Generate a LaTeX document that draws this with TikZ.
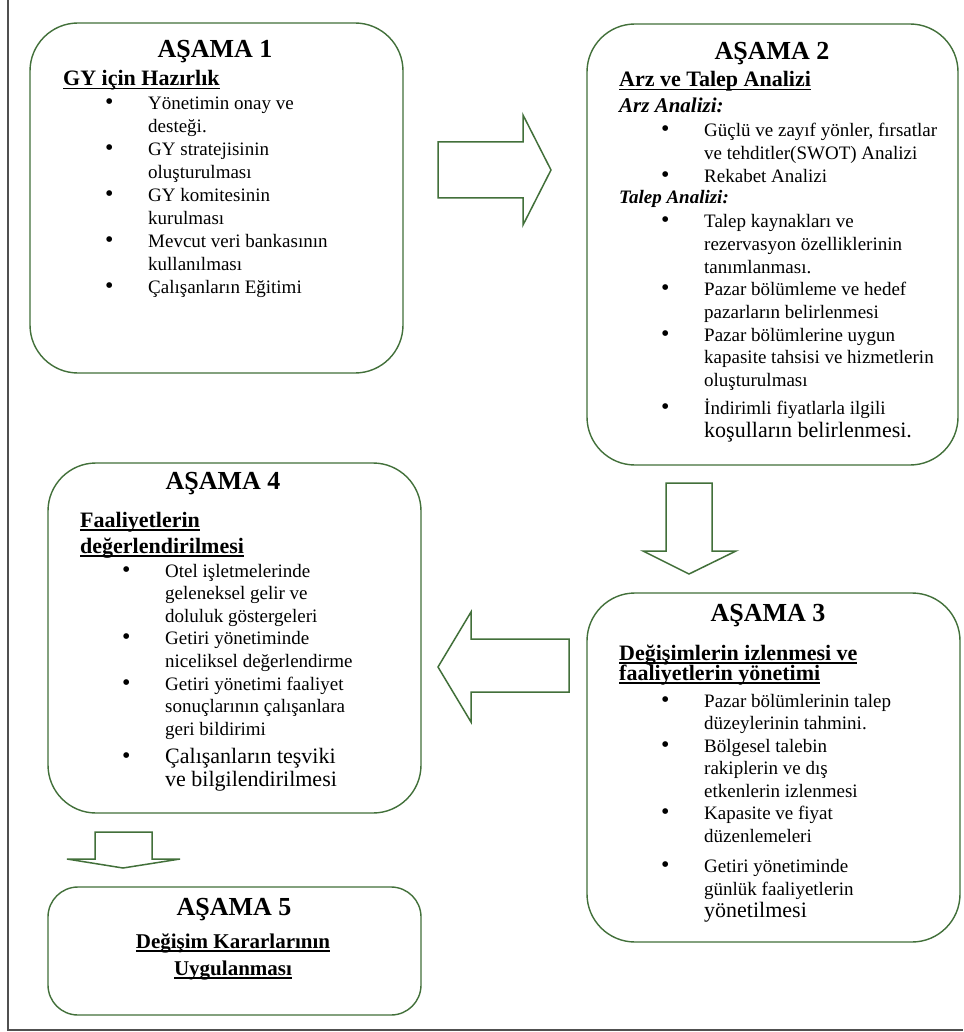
\documentclass[tikz,border=0pt]{standalone}
\usepackage{fontspec}
\setmainfont{Liberation Serif}
\definecolor{boxgreen}{RGB}{66,112,58}
\definecolor{framegray}{RGB}{80,80,80}
\newcommand\myul[1]{\setbox0\hbox{#1}\rlap{\rule[-3.5pt]{\wd0}{1.6pt}}\box0}
\newcommand\bitem[1]{\hspace*{42pt}\makebox[43pt][l]{{\fontsize{24}{20}\selectfont\textbullet}}#1}
\newcommand\bcont[1]{\hspace*{85pt}#1}
\begin{document}
\begin{tikzpicture}[x=1pt,y=-1pt,
  stage/.style={draw=boxgreen, line width=1.4pt, rounded corners=48pt, inner sep=0pt},
  stagetitle/.style={font=\fontsize{26}{30}\selectfont\bfseries, anchor=base, inner sep=0pt},
  subt/.style={font=\fontsize{22}{26}\selectfont\bfseries, anchor=base west, inner sep=0pt},
  subi/.style={font=\fontsize{21}{24}\selectfont\bfseries\itshape, anchor=base west, inner sep=0pt},
  txt/.style={anchor=base west, inner sep=0pt},
  blockarrow/.style={draw=boxgreen, line width=1.5pt, line join=miter, fill=white}]
\useasboundingbox (0,0) rectangle (963,1032);
\fill[white] (0,0) rectangle (963,1032);
\draw[framegray, line width=2.5pt] (8,0) -- (8,1030) -- (963,1030);

% boxes
\node[stage, minimum width=373pt, minimum height=350pt] (b1) at (216.5,198) {};
\node[stage, minimum width=371pt, minimum height=441pt] (b2) at (772.5,244.5) {};
\node[stage, minimum width=373pt, minimum height=349pt] (b3) at (773.5,767.5) {};
\node[stage, minimum width=373pt, minimum height=350pt] (b4) at (234.5,638) {};
\node[stage, rounded corners=30pt, minimum width=373pt, minimum height=128pt] (b5) at (234.5,951) {};

% block arrows
\draw[blockarrow] (438,142) -- (523,142) -- (523,115) -- (551,170) -- (523,225) -- (523,198) -- (438,198) -- cycle;
\draw[blockarrow] (666,483) -- (712,483) -- (712,551) -- (736,551) -- (689,574) -- (643,551) -- (666,551) -- cycle;
\draw[blockarrow] (438,667) -- (471,612) -- (471,639) -- (569,639) -- (569,692) -- (471,692) -- (471,722) -- cycle;
\draw[blockarrow] (95,832) -- (152,832) -- (152,859) -- (180,859) -- (123,868) -- (67,859) -- (95,859) -- cycle;

% titles
\node[stagetitle] (t1) at (215,58) {AŞAMA 1};
\node[stagetitle] (t2) at (772,60) {AŞAMA 2};
\node[stagetitle] (t3) at (768,621) {AŞAMA 3};
\node[stagetitle] (t4) at (223,489) {AŞAMA 4};
\node[stagetitle] (t5) at (234,915) {AŞAMA 5};

% box 1
\node[subt] (s1) at (63,86) {\myul{GY için Hazırlık}};
\node[txt] (l1) at (63,110) {\parbox[t]{360pt}{\fontsize{19}{23}\selectfont
\bitem{Yönetimin onay ve}\\
\bcont{desteği.}\\
\bitem{GY stratejisinin}\\
\bcont{oluşturulması}\\
\bitem{GY komitesinin}\\
\bcont{kurulması}\\
\bitem{Mevcut veri bankasının}\\
\bcont{kullanılması}\\
\bitem{Çalışanların Eğitimi}}};

% box 2
\node[subt] (s2) at (619,87) {\myul{Arz ve Talep Analizi}};
\node[subi] (s2a) at (619,113) {Arz Analizi:};
\node[txt] (l2a) at (619,137) {\parbox[t]{360pt}{\fontsize{19}{23}\selectfont
\bitem{Güçlü ve zayıf yönler, fırsatlar}\\
\bcont{ve tehditler(SWOT) Analizi}\\
\bitem{Rekabet Analizi}}};
\node[subi, font=\fontsize{19}{23}\selectfont\bfseries\itshape] (s2b) at (619,204) {Talep Analizi:};
\node[txt] (l2b) at (619,228) {\parbox[t]{360pt}{\fontsize{19}{22.6}\selectfont
\bitem{Talep kaynakları ve}\\
\bcont{rezervasyon özelliklerinin}\\
\bcont{tanımlanması.}\\
\bitem{Pazar bölümleme ve hedef}\\
\bcont{pazarların belirlenmesi}\\
\bitem{Pazar bölümlerine uygun}\\
\bcont{kapasite tahsisi ve hizmetlerin}\\
\bcont{oluşturulması}\\[6pt]
\bitem{İndirimli fiyatlarla ilgili}\\
\bcont{{\fontsize{22}{22.6}\selectfont koşulların belirlenmesi.}}}};

% box 3
\node[subt] (s3a) at (619,660) {\myul{Değişimlerin izlenmesi ve}};
\node[subt] (s3b) at (619,680) {\myul{faaliyetlerin yönetimi}};
\node[txt] (l3) at (619,707) {\parbox[t]{360pt}{\fontsize{19}{22.5}\selectfont
\bitem{Pazar bölümlerinin talep}\\
\bcont{düzeylerinin tahmini.}\\
\bitem{Bölgesel talebin}\\
\bcont{rakiplerin ve dış}\\
\bcont{etkenlerin izlenmesi}\\
\bitem{Kapasite ve fiyat}\\
\bcont{düzenlemeleri}\\[8pt]
\bitem{Getiri yönetiminde}\\
\bcont{günlük faaliyetlerin}\\
\bcont{{\fontsize{22}{22.5}\selectfont yönetilmesi}}}};

% box 4
\node[subt] (s4a) at (80,527) {\myul{Faaliyetlerin}};
\node[subt] (s4b) at (80,553) {\myul{değerlendirilmesi}};
\node[txt] (l4) at (80,577) {\parbox[t]{360pt}{\fontsize{19}{22.6}\selectfont
\bitem{Otel işletmelerinde}\\
\bcont{geleneksel gelir ve}\\
\bcont{doluluk göstergeleri}\\
\bitem{Getiri yönetiminde}\\
\bcont{niceliksel değerlendirme}\\
\bitem{Getiri yönetimi faaliyet}\\
\bcont{sonuçlarının çalışanlara}\\
\bcont{geri bildirimi}\\[6pt]
\bitem{{\fontsize{22}{22.6}\selectfont Çalışanların teşviki}}\\
\bcont{{\fontsize{22}{22.6}\selectfont ve bilgilendirilmesi}}}};

% box 5
\node[subt, anchor=base, font=\fontsize{21}{25}\selectfont\bfseries] (s5a) at (233,948) {\myul{Değişim Kararlarının}};
\node[subt, anchor=base, font=\fontsize{21}{25}\selectfont\bfseries] (s5b) at (233,975) {\myul{Uygulanması}};
\end{tikzpicture}
\end{document}
